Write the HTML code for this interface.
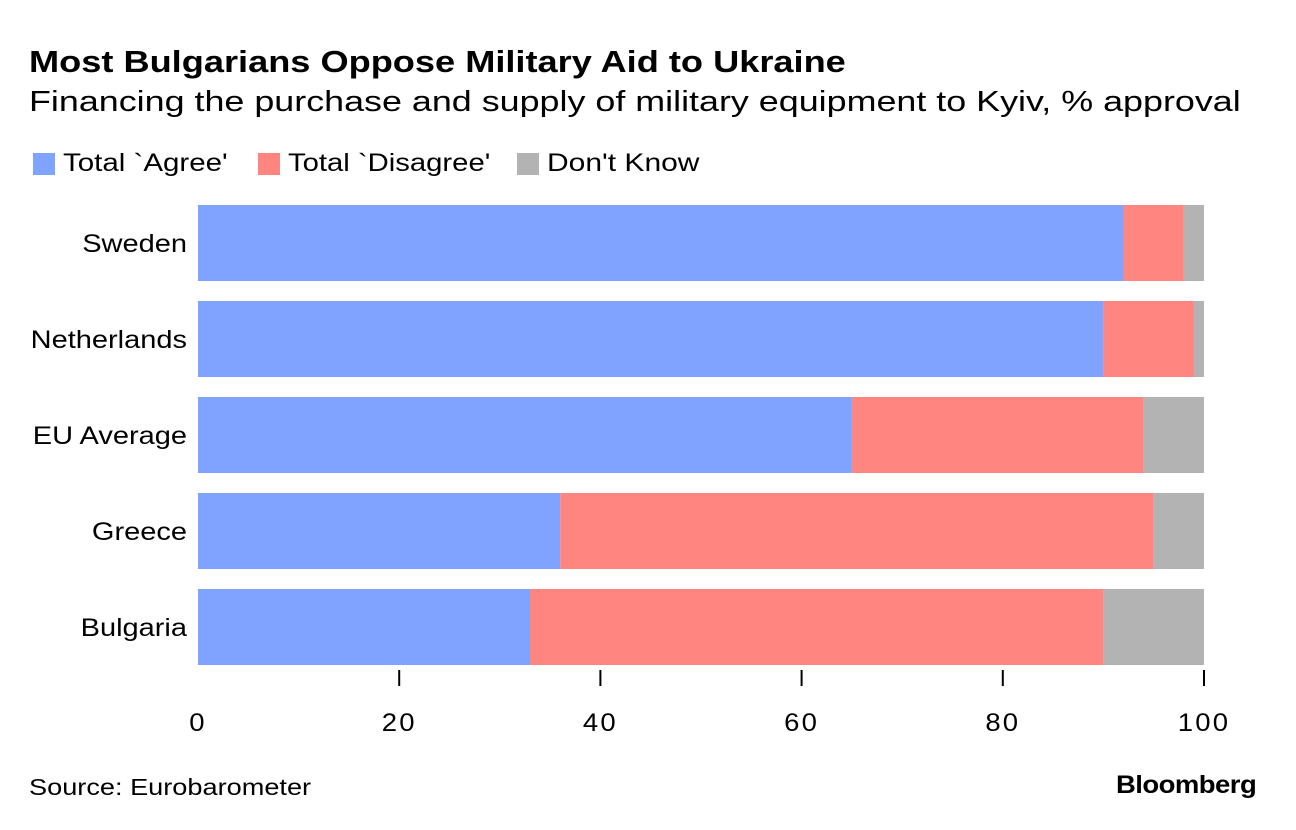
<!DOCTYPE html>
<html><head><meta charset="utf-8"><style>
body{margin:0;background:#fff;font-family:"Liberation Sans",sans-serif;}
#wrap{position:relative;width:1296px;height:830px;overflow:hidden;}
.t{position:absolute;white-space:nowrap;color:#000;transform-origin:0 0;}
.sw{position:absolute;width:22px;height:22px;top:153px;}
</style></head><body>
<div id="wrap">
<div class="t" style="left:29px;top:44px;font-size:31px;font-weight:bold;transform:scaleX(1.167);">Most Bulgarians Oppose Military Aid to Ukraine</div>
<div class="t" style="left:29px;top:86px;font-size:29px;transform:scaleX(1.237);">Financing the purchase and supply of military equipment to Kyiv, % approval</div>
<div>
<div class="sw" style="left:33px;background:#7fa3ff"></div>
<div class="t" style="left:63px;top:149px;font-size:25px;transform:scaleX(1.18);">Total `Agree'</div>
<div class="sw" style="left:258px;background:#ff8680"></div>
<div class="t" style="left:288px;top:149px;font-size:25px;transform:scaleX(1.17);">Total `Disagree'</div>
<div class="sw" style="left:517px;background:#b3b3b3"></div>
<div class="t" style="left:547px;top:149px;font-size:25px;transform:scaleX(1.2);">Don't Know</div>
</div>
<svg id="plot" width="1296" height="830" style="position:absolute;left:0;top:0" font-family="Liberation Sans, sans-serif"></svg>
<div class="t" style="left:29px;top:774px;font-size:23px;transform:scaleX(1.18);">Source: Eurobarometer</div>
<div class="t" style="left:1116px;top:771px;font-size:25px;font-weight:bold;letter-spacing:-0.5px;transform:scaleX(1.1);">Bloomberg</div>
</div>
<script>
const categories=["Sweden","Netherlands","EU Average","Greece","Bulgaria"];
const agree=[92,90,65,36,33];
const disagree=[6,9,29,59,57];
const dontKnow=[2,1,6,5,10];
const ticks=[0,20,40,60,80,100];
const svg=document.getElementById('plot');
const NS='http://www.w3.org/2000/svg';
const x=v=>198+v*10.06;
const y=i=>205+i*96;
const bh=76;
function mk(tag,attrs){const e=document.createElementNS(NS,tag);for(const k in attrs)e.setAttribute(k,attrs[k]);svg.appendChild(e);return e;}
const series=[[agree,'#7fa3ff','agree'],[disagree,'#ff8680','disagree'],[dontKnow,'#b3b3b3','dont-know']];
categories.forEach((c,i)=>{
  let acc=0;
  series.forEach(([arr,col,nm])=>{
    const r=mk('rect',{x:x(acc),y:y(i),width:x(acc+arr[i])-x(acc),height:bh,fill:col});
    
    
    acc+=arr[i];
  });
  const t=mk('text',{x:187,y:y(i)+bh/2+9,'text-anchor':'end','font-size':25,fill:'#000',transform:'translate(187 0) scale(1.16 1) translate(-187 0)'});
  t.textContent=c;
  
  
});
ticks.forEach(v=>{
  if(v>0){const l=mk('line',{x1:x(v),x2:x(v),y1:670,y2:686,stroke:'#000','stroke-width':2});
  
  }
  const t=mk('text',{x:x(v),y:731,'text-anchor':'middle','font-size':25,fill:'#000','letter-spacing':2,transform:'translate('+x(v)+' 0) scale(1.1 1) translate('+(-x(v))+' 0)'});
  t.textContent=v;
  
  
});
</script>
</body></html>
